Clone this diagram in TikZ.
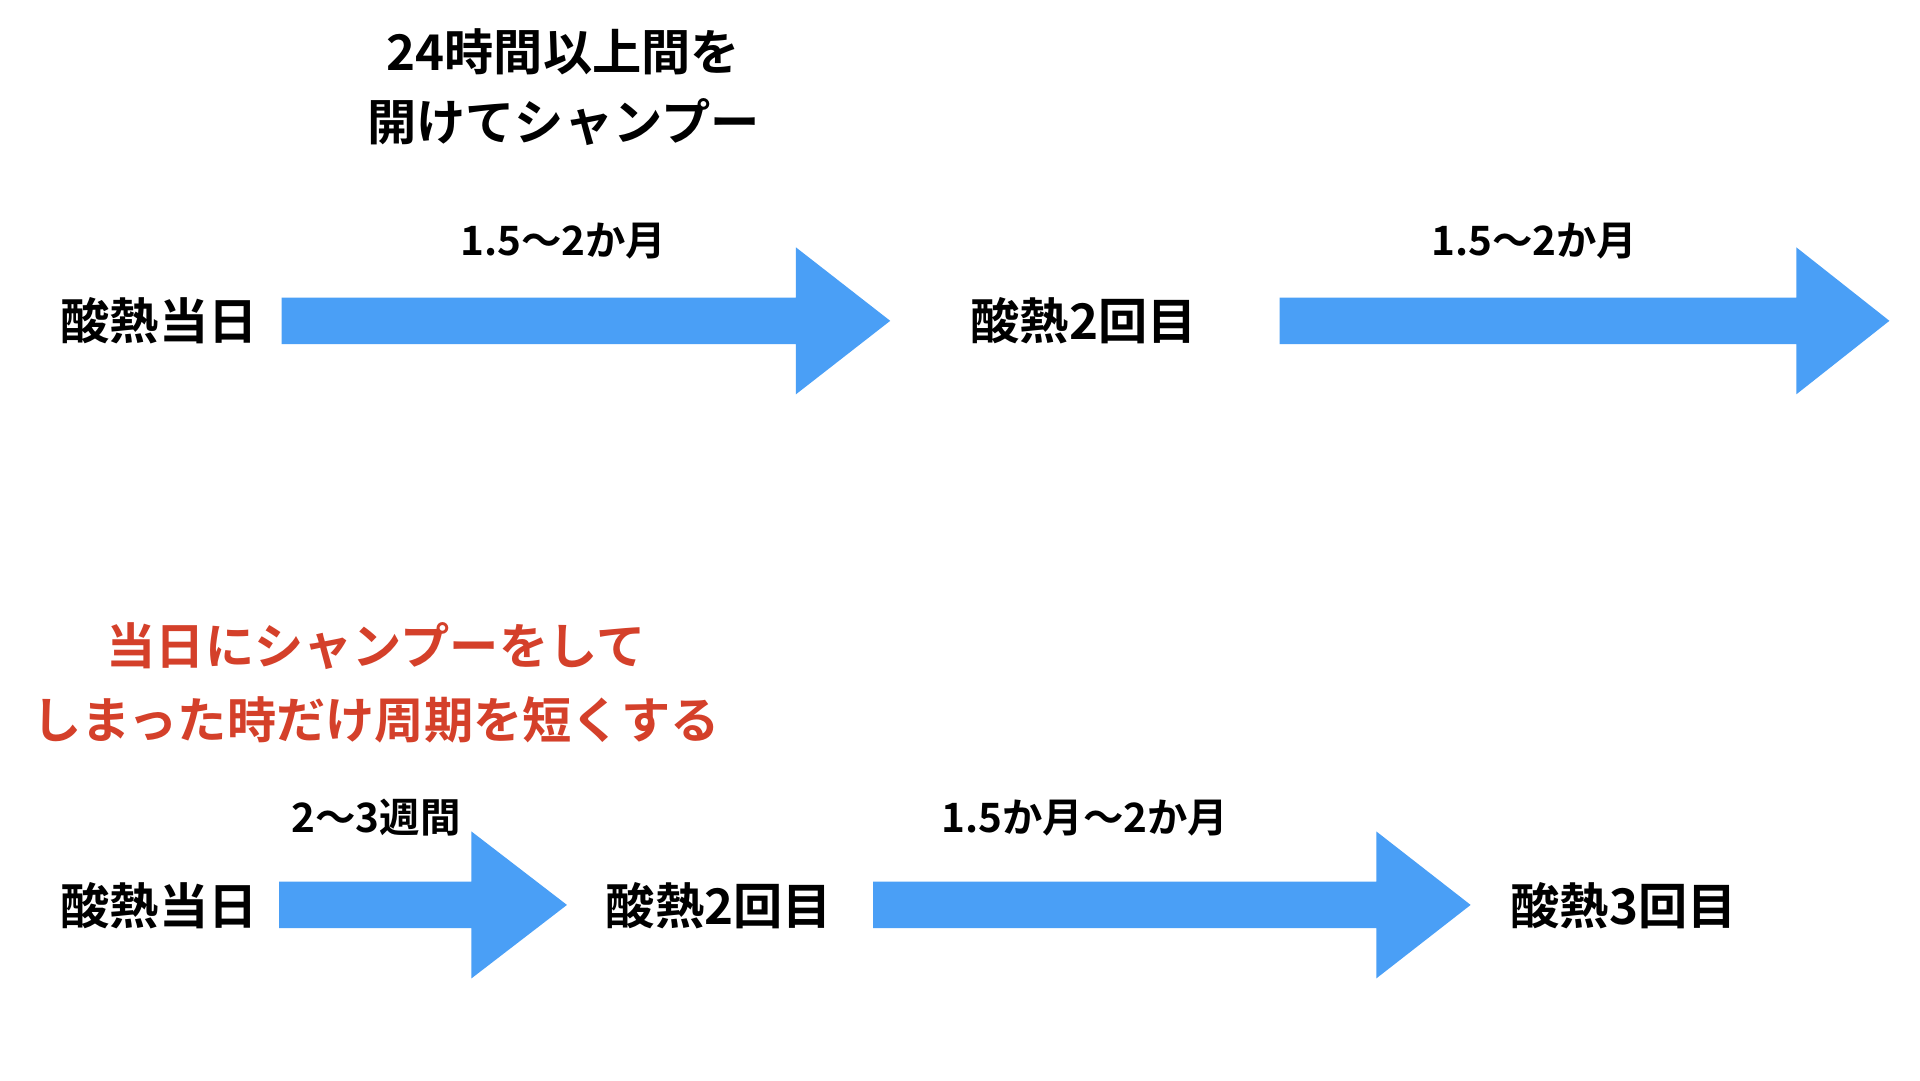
\documentclass[tikz,border=0pt]{standalone}
\usepackage{fontspec}
\setmainfont{Noto Sans CJK JP}[BoldFont={* Bold}]
\definecolor{arrowblue}{HTML}{4A9FF6}
\definecolor{notered}{HTML}{D4402A}
\tikzset{
  big/.style={font=\fontsize{14pt}{17pt}\selectfont\bfseries, inner sep=0pt, anchor=center},
  small/.style={font=\fontsize{11.5pt}{14pt}\selectfont\bfseries, inner sep=0pt, anchor=center},
  redtxt/.style={big, text=notered},
  blockarrow/.style={fill=arrowblue, draw=none}
}
\newcommand{\blockarr}[5]{% x0, x1(head base), xtip, ycenter, name
  \fill[blockarrow] (#1,#4-19) -- (#2,#4-19) -- (#2,#4-60) -- (#3,#4) -- (#2,#4+60) -- (#2,#4+19) -- (#1,#4+19) -- cycle;
  \coordinate (#5) at (#3,#4);
}
\begin{document}
\begin{tikzpicture}[x=0.012245cm, y=-0.012245cm]
\useasboundingbox (0,0) rectangle (1568,882);
\fill[white] (0,0) rectangle (1568,882);
% top section
\node[big] (t1) at (460,42) {24時間以上間を};
\node[big] (t2) at (460,100) {開けてシャンプー};
\node[small] (l1) at (460,197) {1.5〜2か月};
\node[small] (l2) at (1253,197) {1.5〜2か月};
\node[big] (a1) at (130,262) {酸熱当日};
\node[big] (a2) at (885,262) {酸熱2回目};
\blockarr{230}{650}{727}{262}{tip1}
\blockarr{1045}{1467}{1543}{262}{tip2}
% bottom section
\node[redtxt] (r1) at (307,528) {当日にシャンプーをして};
\node[redtxt] (r2) at (307,588) {しまった時だけ周期を短くする};
\node[small] (l3) at (307,668) {2〜3週間};
\node[small] (l4) at (886,668) {1.5か月〜2か月};
\node[big] (b1) at (130,740) {酸熱当日};
\node[big] (b2) at (587,740) {酸熱2回目};
\node[big] (b3) at (1326,740) {酸熱3回目};
\blockarr{228}{385}{463}{739}{tip3}
\blockarr{713}{1124}{1201}{739}{tip4}
\end{tikzpicture}
\end{document}
